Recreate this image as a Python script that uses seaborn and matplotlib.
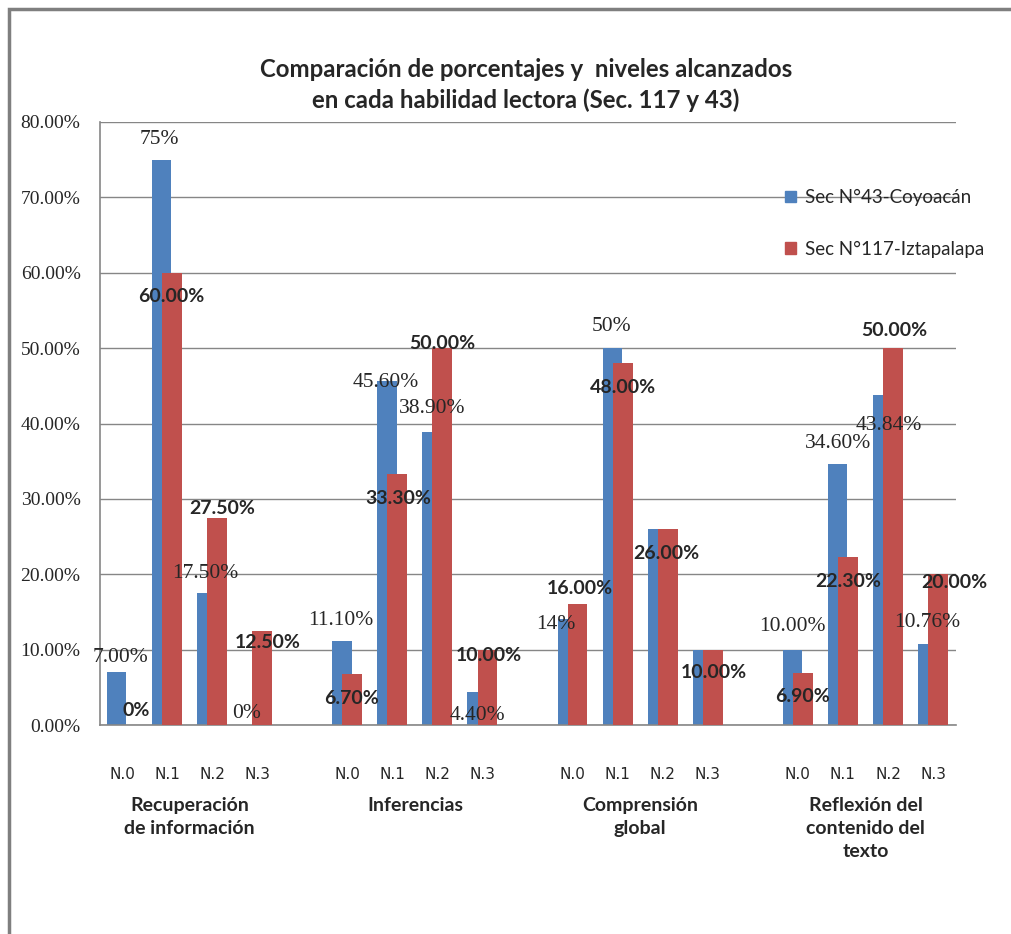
import pandas as pd
import matplotlib.pyplot as plt
import seaborn as sns
from matplotlib.ticker import PercentFormatter
from matplotlib.patches import Rectangle, Patch
from matplotlib.transforms import blended_transform_factory

# Data
habilidades = ['Recuperación\nde información', 'Inferencias', 'Comprensión\nglobal',
               'Reflexión del\ncontenido del\ntexto']
niveles = ['N.0', 'N.1', 'N.2', 'N.3']
series = ['Sec N°43-Coyoacán', 'Sec N°117-Iztapalapa']

sec43 = [7.0, 75.0, 17.5, 0.0, 11.1, 45.6, 38.9, 4.4, 14.0, 50.0, 26.0, 10.0, 10.0, 34.6, 43.84, 10.76]
sec117 = [0.0, 60.0, 27.5, 12.5, 6.7, 33.3, 50.0, 10.0, 16.0, 48.0, 26.0, 10.0, 6.9, 22.3, 50.0, 20.0]

labels43 = ['7.00%', '75%', '17.50%', '0%', '11.10%', '45.60%', '38.90%', '4.40%',
            '14%', '50%', '', '', '10.00%', '34.60%', '43.84%', '10.76%']
labels117 = ['0%', '60.00%', '27.50%', '12.50%', '6.70%', '33.30%', '50.00%', '10.00%',
             '16.00%', '48.00%', '26.00%', '10.00%', '6.90%', '22.30%', '50.00%', '20.00%']

# label offsets (pixels) from the top of each bar, as placed in the original
off43 = [(4, 15), (-2, 20), (-1, 20), (-5, 12), (-1, 21), (-1, -1), (0, 23), (0, -24),
         (-11, -5), (-1, 22), (0, 0), (0, 0), (0, 23), (0, 21), (6, -31), (0, 21)]
off117 = [(9, 15), (-1, -24), (5, 9), (6, -12), (-1, -24), (1, -24), (0, 5), (1, -6),
          (2, 16), (0, -24), (-1, -24), (1, -23), (0, -24), (0, -25), (1, 18), (16, -8)]

blue = '#4F81BD'
red = '#C0504D'
grey = '#868686'

# one empty slot between skill groups, like the Excel sheet
rows = []
for g, hab in enumerate(habilidades):
    for n, niv in enumerate(niveles):
        rows.append({'habilidad': hab, 'nivel': niv, 'slot': g * 5 + n})
df = pd.DataFrame(rows)
df['sec43'] = sec43
df['sec117'] = sec117

sns.set_style('white')
plt.rcParams['font.family'] = ['Lato', 'DejaVu Sans']

fig = plt.figure(figsize=(10.11, 9.34), dpi=100)
ax = fig.add_axes([100 / 1011, 1 - 725 / 934, 856 / 1011, 603 / 934])

sns.barplot(x=df['slot'] - 0.12, y=df['sec43'], native_scale=True, width=0.43,
            color=blue, saturation=1, errorbar=None, linewidth=0, ax=ax, zorder=2)
sns.barplot(x=df['slot'] + 0.11, y=df['sec117'], native_scale=True, width=0.44,
            color=red, saturation=1, errorbar=None, linewidth=0, ax=ax, zorder=3)

ax.set_xlim(-0.49, 18.51)
ax.set_ylim(0, 80)
ax.set_yticks(range(0, 81, 10))
ax.yaxis.set_major_formatter(PercentFormatter(xmax=100, decimals=2))
ax.yaxis.grid(True, color=grey, lw=1)
ax.set_axisbelow(True)
for s in ['top', 'right']:
    ax.spines[s].set_visible(False)
for s in ['left', 'bottom']:
    ax.spines[s].set_color(grey)
    ax.spines[s].set_linewidth(1.2)
ax.set_xlabel('')
ax.set_ylabel('')

ax.set_xticks(df['slot'])
ax.set_xticklabels(df['nivel'], family=['Liberation Sans Narrow', 'DejaVu Sans'], fontsize=11)
ax.tick_params(axis='x', length=0, pad=30)
ax.tick_params(axis='y', length=0, pad=14)
for t in ax.get_yticklabels():
    t.set_family(['Liberation Serif', 'DejaVu Serif'])
    t.set_fontsize(14)

# data labels
for x, v, txt, (dx, dy) in zip(df['slot'] - 0.12, df['sec43'], labels43, off43):
    if txt:
        ax.annotate(txt, (x, v), xytext=(dx, dy), textcoords='offset pixels',
                    ha='center', va='center', fontsize=15.5,
                    family=['Liberation Serif', 'DejaVu Serif'], zorder=5)
for x, v, txt, (dx, dy) in zip(df['slot'] + 0.11, df['sec117'], labels117, off117):
    ax.annotate(txt, (x, v), xytext=(dx, dy), textcoords='offset pixels',
                ha='center', va='center', fontsize=14, fontweight='bold', zorder=5)

# skill group names under the levels
trans = blended_transform_factory(ax.transData, ax.transAxes)
for g, hab in enumerate(habilidades):
    ax.text(g * 5 + 1.5, -0.12, hab, transform=trans, ha='center', va='top',
            fontsize=14, fontweight='bold', linespacing=1.4)

fig.text(526 / 1011, 1 - 85 / 934,
         'Comparación de porcentajes y  niveles alcanzados\nen cada habilidad lectora (Sec. 117 y 43)',
         ha='center', va='center', fontsize=17.3, fontweight='bold', linespacing=1.4)

handles = [Patch(color=blue), Patch(color=red)]
fig.legend(handles, series, loc='upper left', bbox_to_anchor=(785 / 1011, 1 - 189 / 934),
           frameon=False, fontsize=13.5, handlelength=0.6, handleheight=0.6,
           handletextpad=0.45, labelspacing=1.85, borderpad=0, borderaxespad=0)

# chart area border (left and top edges visible)
fig.add_artist(Rectangle((9 / 1011, -0.1), 1.2, 1.1 - 9 / 934, transform=fig.transFigure,
                         fill=False, ec='#7f7f7f', lw=2.5))

fig.savefig('out.png', dpi=100)
